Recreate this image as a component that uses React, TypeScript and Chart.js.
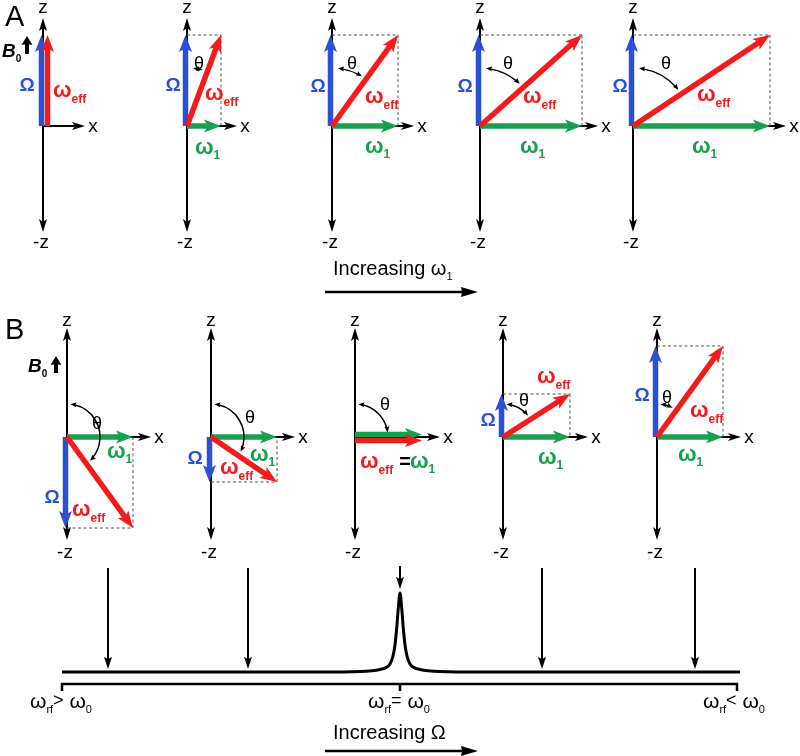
import React, { useEffect, useRef } from "react";
import { Chart, registerables } from "chart.js";
Chart.register(...registerables);

// ---------------- data ----------------
// Panel A: five vector diagrams (origin, Ω = z component, ω1 = x component)
const A_ORIGIN_X = [43, 187, 332, 480, 633];
const A_ORIGIN_Y = 126;
const A_OMEGA = [91, 91, 91, 91, 91];
const A_OMEGA1 = [0, 34, 66, 102, 137];

// Panel B: five vector diagrams
const B_ORIGIN_X = [67, 211, 355, 503, 657];
const B_ORIGIN_Y = 437;
const B_OMEGA = [-91, -45, 0, 43, 91];
const B_OMEGA1 = [66, 66, 67, 67, 66];

// Spectrum (resonance line)
const SPEC_X = [62, 320, 360, 380, 387, 390, 393, 395, 396.7, 398.3, 400, 401.7, 403.3, 405, 407, 410, 413, 420, 440, 480, 740];
const SPEC_Y = [672, 672, 671.5, 669.5, 667, 664, 656, 645, 628, 608, 593, 608, 628, 645, 656, 664, 667, 669.5, 671.5, 672, 672];
const SPEC_MARK_X = [108, 248, 400, 542, 695];
const SPEC_TICK_X = [62, 400, 737];

// ---------------- styles ----------------
const BLUE = "#2a50d6";
const RED = "#f51a1c";
const GREEN = "#17a14c";
const BLACK = "#000000";
const DASHC = "#555555";
const FONT = '"Liberation Sans", Arial, Helvetica, sans-serif';

type ArrowStyle = { color: string; width: number; head: "end" | "both"; hl: number; hw: number; notch: number };

const VEC = (color: string): ArrowStyle => ({ color, width: 5.5, head: "end", hl: 17, hw: 13, notch: 4 });
const AXIS_Z: ArrowStyle = { color: BLACK, width: 2, head: "both", hl: 13, hw: 8, notch: 3 };
const AXIS_X: ArrowStyle = { color: BLACK, width: 2, head: "end", hl: 13, hw: 8, notch: 3 };
const MARK: ArrowStyle = { color: BLACK, width: 2, head: "end", hl: 12, hw: 8, notch: 2 };
const BIG: ArrowStyle = { color: BLACK, width: 2.5, head: "end", hl: 17, hw: 10, notch: 1 };
const B0A: ArrowStyle = { color: BLACK, width: 4, head: "end", hl: 9, hw: 11, notch: 1 };

function buildDatasets() {
  const list: any[] = []; // bottom-to-top draw order
  const arrow = (x1: number, y1: number, x2: number, y2: number, s: ArrowStyle) =>
    list.push({
      data: [{ x: x1, y: y1 }, { x: x2, y: y2 }],
      showLine: false,
      pointRadius: 0,
      borderWidth: 0,
      arrowStyle: s,
    });
  const line = (pts: { x: number; y: number }[], color: string, width: number, dash: number[] = [], extra: any = {}) =>
    list.push({
      data: pts,
      showLine: true,
      pointRadius: 0,
      borderColor: color,
      borderWidth: width,
      borderDash: dash,
      fill: false,
      ...extra,
    });

  const diagram = (ox: number, oy: number, wz: number, wx: number, top: number, bottom: number, xPad: number) => {
    arrow(ox, oy - top, ox, oy + bottom, AXIS_Z);
    arrow(ox, oy, ox + Math.max(wx + xPad, 42), oy, AXIS_X);
    if (wx !== 0 && wz !== 0) {
      line([{ x: ox, y: oy - wz }, { x: ox + wx, y: oy - wz }], DASHC, 1, [3, 2.5]);
      line([{ x: ox + wx, y: oy - wz }, { x: ox + wx, y: oy }], DASHC, 1, [3, 2.5]);
    }
    const redShift = wx === 0 ? 4.5 : 0;
    const gShift = wz === 0 ? -2.5 : 0;
    const rShiftY = wz === 0 ? 3.5 : 0;
    if (wz !== 0) arrow(ox - 1.5, oy, ox - 1.5, oy - wz, VEC(BLUE));
    if (wx !== 0) arrow(ox, oy + gShift, ox + wx, oy + gShift, VEC(GREEN));
    arrow(ox + redShift, oy + rShiftY, ox + wx + redShift, oy - wz + rShiftY, VEC(RED));
  };

  A_ORIGIN_X.forEach((ox, i) => diagram(ox, A_ORIGIN_Y, A_OMEGA[i], A_OMEGA1[i], 108, 106, 16));
  B_ORIGIN_X.forEach((ox, i) => diagram(ox, B_ORIGIN_Y, B_OMEGA[i], B_OMEGA1[i], 109, 103, 18));

  // B0 arrows
  arrow(27, 54, 27, 36, B0A);
  arrow(56, 373, 56, 356, B0A);

  // "Increasing" arrows
  arrow(325, 292, 478, 292, BIG);
  arrow(325, 751, 478, 751, BIG);

  // spectrum
  line(SPEC_X.map((x, i) => ({ x, y: SPEC_Y[i] })), BLACK, 3, [], { cubicInterpolationMode: "monotone" });
  SPEC_MARK_X.forEach((x) => {
    if (x === 400) arrow(x, 566, x, 589, MARK);
    else arrow(x, 568, x, 669, MARK);
  });
  line(
    [
      { x: SPEC_TICK_X[0], y: 691 },
      { x: SPEC_TICK_X[0], y: 684 },
      { x: SPEC_TICK_X[2], y: 684 },
      { x: SPEC_TICK_X[2], y: 691 },
    ],
    BLACK,
    2.5
  );
  line([{ x: SPEC_TICK_X[1], y: 684 }, { x: SPEC_TICK_X[1], y: 691 }], BLACK, 2.5);

  return list.reverse(); // Chart.js draws dataset 0 on top
}

// θ arcs: radius and angular trims
function buildArcs() {
  const arcs: { ox: number; oy: number; r: number; a0: number; a1: number }[] = [];
  A_ORIGIN_X.forEach((ox, i) => {
    if (A_OMEGA1[i] === 0) return;
    const phi = (Math.atan2(A_OMEGA1[i], A_OMEGA[i]) * 180) / Math.PI;
    arcs.push({ ox, oy: A_ORIGIN_Y, r: 58, a0: 6, a1: phi - 5 });
  });
  B_ORIGIN_X.forEach((ox, i) => {
    const phi = (Math.atan2(B_OMEGA1[i], B_OMEGA[i]) * 180) / Math.PI;
    arcs.push({ ox, oy: B_ORIGIN_Y, r: 33, a0: 6, a1: phi - 8 });
  });
  return arcs;
}

type Part = { t: string; s: number; b?: boolean; i?: boolean; dy?: number; c?: string };
type Label = { x: number; y: number; parts: Part[]; color: string; align?: "left" | "center" };

function buildLabels(): Label[] {
  const L: Label[] = [];
  const wEff = (x: number, y: number) =>
    L.push({ x, y, color: RED, parts: [{ t: "ω", s: 22, b: true }, { t: "eff", s: 12, b: true, dy: 6 }] });
  const w1 = (x: number, y: number) =>
    L.push({ x, y, color: GREEN, parts: [{ t: "ω", s: 22, b: true }, { t: "1", s: 12, b: true, dy: 5 }] });
  const Om = (x: number, y: number) => L.push({ x, y, color: BLUE, align: "center", parts: [{ t: "Ω", s: 19, b: true }] });
  const th = (x: number, yc: number) => L.push({ x, y: yc + 6.5, color: BLACK, align: "center", parts: [{ t: "θ", s: 18 }] });
  const txt = (x: number, y: number, t: string, s: number, align: "left" | "center" = "center") =>
    L.push({ x, y, color: BLACK, align, parts: [{ t, s }] });

  // axis labels
  const axisLabels = (oxs: number[], oy: number, wxs: number[], zb: number, mzb: number, xPad: number) =>
    oxs.forEach((ox, i) => {
      txt(ox, zb, "z", 19);
      txt(ox - 2, mzb, "-z", 19);
      txt(ox + Math.max(wxs[i] + xPad, 42) + 8, oy + 5.5, "x", 19);
    });
  axisLabels(A_ORIGIN_X, A_ORIGIN_Y, A_OMEGA1, 13, 248, 16);
  axisLabels(B_ORIGIN_X, B_ORIGIN_Y, B_OMEGA1, 325.5, 558, 18);

  // Panel A
  txt(5, 26, "A", 29, "left");
  L.push({ x: 2, y: 57, color: BLACK, parts: [{ t: "B", s: 19, b: true, i: true }, { t: "0", s: 10, b: true, dy: 5 }] });
  Om(27, 91); wEff(53, 97);
  Om(173, 91); wEff(205, 100); w1(195, 154); th(199, 62);
  Om(318, 92); wEff(365, 103); w1(365, 153); th(352, 62);
  Om(465, 92); wEff(523, 103); w1(520, 153); th(508, 62);
  Om(620, 92); wEff(697, 101); w1(692, 153); th(666, 62);
  L.push({ x: 333, y: 275, color: BLACK, parts: [{ t: "Increasing ω", s: 20 }, { t: "1", s: 11, dy: 5 }] });

  // Panel B
  txt(5, 339, "B", 29, "left");
  L.push({ x: 28, y: 372, color: BLACK, parts: [{ t: "B", s: 19, b: true, i: true }, { t: "0", s: 10, b: true, dy: 5 }] });
  th(97, 422); w1(107, 458); Om(52, 503); wEff(72, 516);
  th(250, 416); w1(250, 461); Om(195, 464); wEff(220, 474);
  th(385, 403); wEff(360, 468); L.push({ x: 405, y: 468, color: BLACK, align: "center", parts: [{ t: "=", s: 20, b: true }] }); w1(410, 468);
  th(524, 399); wEff(537, 383); Om(488, 426); w1(538, 464);
  th(667, 396); wEff(690, 417); Om(642, 401); w1(678, 461);

  // spectrum labels
  const rf = (x: number, rel: string) =>
    L.push({
      x, y: 708, color: BLACK,
      parts: [
        { t: "ω", s: 21 }, { t: "rf", s: 11, dy: 5 }, { t: rel, s: 18, dy: -2 },
        { t: " ω", s: 21 }, { t: "0", s: 11, dy: 5 },
      ],
    });
  rf(30, ">");
  rf(368, "=");
  rf(703, "<");
  L.push({ x: 333, y: 739, color: BLACK, parts: [{ t: "Increasing Ω", s: 20 }] });
  return L;
}

function drawHead(ctx: CanvasRenderingContext2D, tx: number, ty: number, ux: number, uy: number, s: ArrowStyle) {
  const nx = -uy, ny = ux;
  const bx = tx - ux * s.hl, by = ty - uy * s.hl;
  ctx.beginPath();
  ctx.moveTo(tx, ty);
  ctx.lineTo(bx + (nx * s.hw) / 2, by + (ny * s.hw) / 2);
  ctx.lineTo(tx - ux * (s.hl - s.notch), ty - uy * (s.hl - s.notch));
  ctx.lineTo(bx - (nx * s.hw) / 2, by - (ny * s.hw) / 2);
  ctx.closePath();
  ctx.fill();
}

const arrowPlugin = {
  id: "arrows",
  afterDatasetDraw(chart: any, args: any) {
    const ds = chart.data.datasets[args.index];
    const s: ArrowStyle | undefined = ds.arrowStyle;
    if (!s) return;
    const pts = args.meta.data;
    const x1 = pts[0].x, y1 = pts[0].y, x2 = pts[1].x, y2 = pts[1].y;
    const L = Math.hypot(x2 - x1, y2 - y1);
    if (L < 1) return;
    const ux = (x2 - x1) / L, uy = (y2 - y1) / L;
    const inset = s.hl - s.notch - 0.5;
    const ctx: CanvasRenderingContext2D = chart.ctx;
    ctx.save();
    ctx.strokeStyle = s.color;
    ctx.fillStyle = s.color;
    ctx.lineWidth = s.width;
    ctx.lineCap = "butt";
    ctx.beginPath();
    const sx = s.head === "both" ? x1 + ux * inset : x1;
    const sy = s.head === "both" ? y1 + uy * inset : y1;
    ctx.moveTo(sx, sy);
    ctx.lineTo(x2 - ux * inset, y2 - uy * inset);
    ctx.stroke();
    drawHead(ctx, x2, y2, ux, uy, s);
    if (s.head === "both") drawHead(ctx, x1, y1, -ux, -uy, s);
    ctx.restore();
  },
};

const ARCS = buildArcs();
const LABELS = buildLabels();

const arcPlugin = {
  id: "arcs",
  afterDatasetsDraw(chart: any) {
    const ctx: CanvasRenderingContext2D = chart.ctx;
    const xs = chart.scales.x, ys = chart.scales.y;
    ctx.save();
    ctx.strokeStyle = BLACK;
    ctx.fillStyle = BLACK;
    ctx.lineWidth = 1.5;
    ARCS.forEach((a) => {
      const cx = xs.getPixelForValue(a.ox), cy = ys.getPixelForValue(a.oy);
      const r = Math.abs(xs.getPixelForValue(a.ox + a.r) - cx);
      const t0 = ((a.a0 - 90) * Math.PI) / 180;
      const t1 = ((a.a1 - 90) * Math.PI) / 180;
      const hs: ArrowStyle = { color: BLACK, width: 1.5, head: "end", hl: 6, hw: 5, notch: 1 };
      const trim = 4 / r;
      ctx.beginPath();
      ctx.arc(cx, cy, r, t0 + trim, t1 - trim, false);
      ctx.stroke();
      // end head (direction of increasing angle)
      const ex = cx + r * Math.cos(t1), ey = cy + r * Math.sin(t1);
      drawHead(ctx, ex, ey, -Math.sin(t1), Math.cos(t1), hs);
      const sx = cx + r * Math.cos(t0), sy = cy + r * Math.sin(t0);
      drawHead(ctx, sx, sy, Math.sin(t0), -Math.cos(t0), hs);
    });
    ctx.restore();
  },
};

const labelPlugin = {
  id: "labels",
  afterDraw(chart: any) {
    const ctx: CanvasRenderingContext2D = chart.ctx;
    const xs = chart.scales.x, ys = chart.scales.y;
    ctx.save();
    ctx.textBaseline = "alphabetic";
    ctx.textAlign = "left";
    const fontOf = (p: Part) => `${p.i ? "italic " : ""}${p.b ? "bold " : ""}${p.s}px ${FONT}`;
    LABELS.forEach((l) => {
      let total = 0;
      l.parts.forEach((p) => {
        ctx.font = fontOf(p);
        total += ctx.measureText(p.t).width;
      });
      const px = xs.getPixelForValue(l.x), py = ys.getPixelForValue(l.y);
      let cx = l.align === "center" ? px - total / 2 : px;
      l.parts.forEach((p) => {
        ctx.font = fontOf(p);
        ctx.fillStyle = p.c || l.color;
        ctx.fillText(p.t, cx, py + (p.dy || 0));
        cx += ctx.measureText(p.t).width;
      });
    });
    ctx.restore();
  },
};

export default function App() {
  const ref = useRef<HTMLCanvasElement | null>(null);
  useEffect(() => {
    if (!ref.current) return;
    const chart = new Chart(ref.current, {
      type: "scatter",
      data: { datasets: buildDatasets() },
      options: {
        animation: false,
        responsive: false,
        events: [],
        layout: { padding: 0 },
        plugins: { legend: { display: false }, tooltip: { enabled: false }, title: { display: false } },
        scales: {
          x: { type: "linear", min: 0, max: 800, display: false },
          y: { type: "linear", min: 0, max: 756, reverse: true, display: false },
        },
        elements: { point: { radius: 0 } },
      } as any,
      plugins: [arrowPlugin, arcPlugin, labelPlugin],
    });
    return () => chart.destroy();
  }, []);
  return (
    <div style={{ position: "fixed", left: 0, top: 0, width: 800, height: 756, background: "#fff" }}>
      <canvas ref={ref} width={800} height={756} style={{ display: "block", width: 800, height: 756 }} />
    </div>
  );
}
